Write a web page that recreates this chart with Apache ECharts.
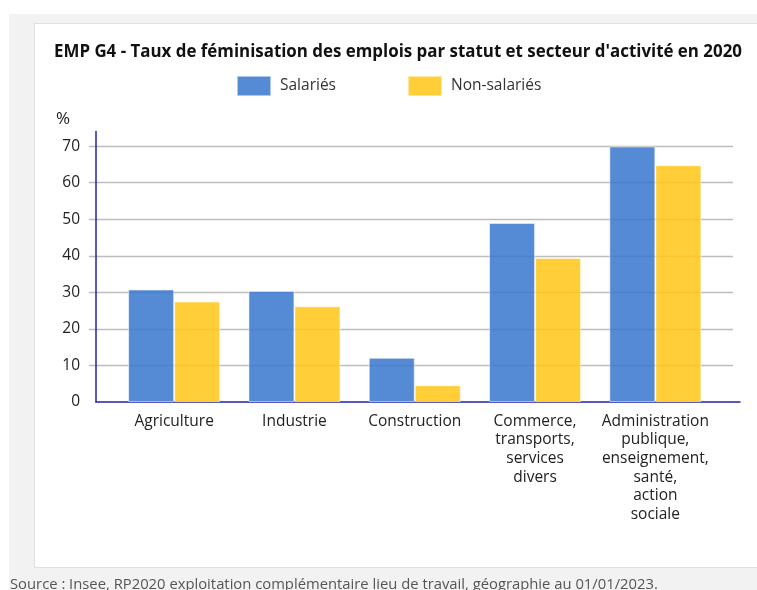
<!DOCTYPE html>
<html lang="fr">
<head>
<meta charset="utf-8">
<title>EMP G4 - Taux de féminisation des emplois</title>
<script src="https://cdn.jsdelivr.net/npm/echarts@6/dist/echarts.min.js"></script>
<style>
  html, body { margin: 0; padding: 0; background: #ffffff; }
  #frame { position: absolute; left: 9px; top: 14px; width: 760px; height: 590px; background: #f2f2f2; }
  #panel { position: absolute; left: 34px; top: 23px; width: 740px; height: 543px; background: #ffffff; border: 1px solid #e0e0e0; }
  #chart { position: absolute; left: 0; top: 0; width: 757px; height: 590px; }
</style>
</head>
<body>
<div id="frame"></div>
<div id="panel"></div>
<div id="chart"></div>
<script>
// Secteurs d'activité (axe des abscisses)
const categories = [
  'Agriculture',
  'Industrie',
  'Construction',
  'Commerce,\ntransports,\nservices\ndivers',
  'Administration\npublique,\nenseignement,\nsanté,\naction\nsociale'
];
// Part des femmes dans l'emploi, en %
const salaries = [30.8, 30.4, 12.1, 49.0, 69.9];
const nonSalaries = [27.5, 26.2, 4.6, 39.4, 64.8];
// Graduations de l'axe des ordonnées
const yTicks = [0, 10, 20, 30, 40, 50, 60, 70];

const font = '"Open Sans", "Noto Sans", sans-serif';
const axisBlue = '#2323a8';
const gridGrey = '#bdbdbd';
const yMin = yTicks[0];
const yMax = 74;
const yStep = yTicks[1] - yTicks[0];

// Three stacked grids sharing the same vertical range:
// 0 = axis frame (axis lines + labels), 1 = horizontal grid lines, 2 = bars + categories
const plotTop = 131.5, plotBottom = 188;

const chart = echarts.init(document.getElementById('chart'), null, { renderer: 'canvas' });

chart.setOption({
  animation: false,
  backgroundColor: 'transparent',
  textStyle: { fontFamily: font },
  title: {
    text: "EMP G4 - Taux de féminisation des emplois par statut et secteur d'activité en 2020",
    left: 54,
    top: 44,
    padding: 0,
    textStyle: { fontFamily: font, fontSize: 16.9, fontWeight: 'bold', color: '#111111' }
  },
  legend: {
    left: 236,
    top: 75,
    padding: 0,
    itemWidth: 34,
    itemHeight: 20,
    itemGap: 71,
    icon: 'rect',
    textStyle: { fontFamily: font, fontSize: 15.5, color: '#333333', padding: [2, 0, 0, 4] },
    data: ['Salariés', 'Non-salariés']
  },
  grid: [
    { left: 96, right: 17, top: plotTop, bottom: plotBottom },
    { left: 89, right: 24, top: plotTop, bottom: plotBottom },
    { left: 114, right: 41.5, top: plotTop, bottom: plotBottom }
  ],
  xAxis: [
    {
      gridIndex: 0, type: 'value', min: 0, max: 1,
      axisLine: { show: true, onZero: false, lineStyle: { color: axisBlue, width: 1.5 } },
      axisTick: { show: false }, axisLabel: { show: false }, splitLine: { show: false }
    },
    {
      gridIndex: 1, type: 'value', min: 0, max: 1, show: false
    },
    {
      gridIndex: 2,
      type: 'category',
      data: categories,
      axisLine: { show: false },
      axisTick: { show: false },
      axisLabel: {
        interval: 0,
        margin: 10,
        fontFamily: font,
        fontSize: 15.5,
        lineHeight: 18.6,
        color: '#222222',
        align: 'center',
        verticalAlign: 'top'
      }
    }
  ],
  yAxis: [
    {
      gridIndex: 0,
      type: 'value',
      min: yMin,
      max: yMax,
      interval: yStep,
      name: '%',
      nameLocation: 'end',
      nameGap: 4,
      nameTextStyle: { fontFamily: font, fontSize: 17, color: '#222222', align: 'right', padding: [0, 26, 0, 0] },
      axisLine: { show: true, lineStyle: { color: axisBlue, width: 1.5 } },
      axisTick: { show: false },
      axisLabel: { showMaxLabel: false, margin: 16, fontFamily: font, fontSize: 15.5, color: '#222222' },
      splitLine: { show: false }
    },
    {
      gridIndex: 1,
      type: 'value',
      min: yMin,
      max: yMax,
      interval: yStep,
      axisLine: { show: false },
      axisTick: { show: false },
      axisLabel: { show: false },
      splitLine: { show: true, showMinLine: false, showMaxLine: false, lineStyle: { color: gridGrey, width: 1.3 } }
    },
    {
      gridIndex: 2,
      type: 'value',
      min: yMin,
      max: yMax,
      interval: yStep,
      show: false,
      splitLine: { show: false }
    }
  ],
  series: [
    {
      name: 'Salariés',
      type: 'bar',
      xAxisIndex: 2,
      yAxisIndex: 2,
      data: salaries,
      barGap: '0%',
      barCategoryGap: '23.5%',
      itemStyle: { color: '#3d7bcf', opacity: 0.88, borderColor: 'rgba(255,255,255,0.6)', borderWidth: 1 }
    },
    {
      name: 'Non-salariés',
      type: 'bar',
      xAxisIndex: 2,
      yAxisIndex: 2,
      data: nonSalaries,
      itemStyle: { color: '#ffc71c', opacity: 0.88, borderColor: 'rgba(255,255,255,0.6)', borderWidth: 1 }
    }
  ],
  graphic: [
    {
      type: 'text',
      left: 10,
      top: 577,
      style: {
        text: 'Source : Insee, RP2020 exploitation complémentaire lieu de travail, géographie au 01/01/2023.',
        font: '14.8px "Open Sans", "Noto Sans", sans-serif',
        fill: '#555555'
      }
    }
  ]
});
</script>
</body>
</html>
